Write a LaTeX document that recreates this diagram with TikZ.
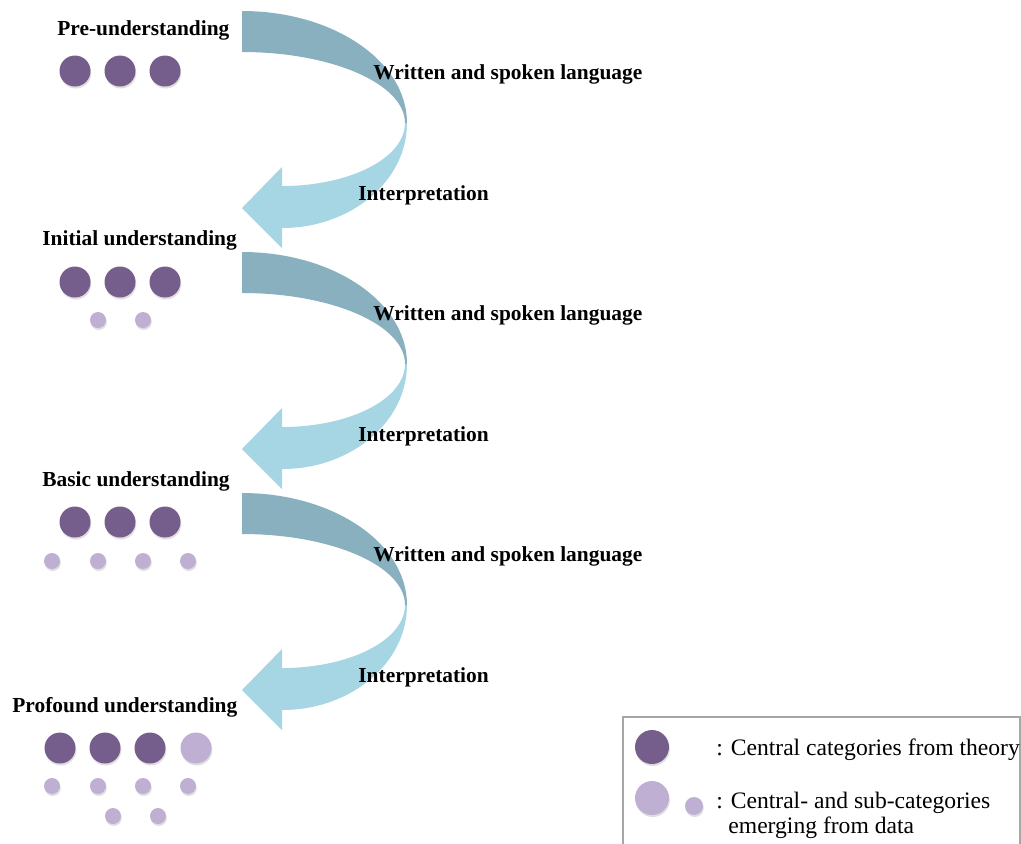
\documentclass[tikz,border=0pt]{standalone}
\usepackage{fontspec}
\setmainfont{Liberation Serif}
\usetikzlibrary{positioning,shadows}

\definecolor{theorydark}{RGB}{117,94,139}
\definecolor{datalight}{RGB}{191,175,210}
\definecolor{loopdark}{RGB}{136,176,190}
\definecolor{looplight}{RGB}{166,213,227}

\begin{document}
\begin{tikzpicture}[
  x=0.5pt,
  y=-0.5pt,
  stagelabel/.style={
    anchor=west,
    inner sep=0pt,
    font=\fontsize{10.7}{12.8}\selectfont\bfseries
  },
  legendtext/.style={
    anchor=west,
    inner sep=0pt,
    font=\fontsize{11.8}{13}\selectfont
  },
  catshadow/.style={
    drop shadow={shadow xshift=0.4pt, shadow yshift=-1pt, opacity=0.25}
  },
  theorycat/.style={
    circle,
    fill=theorydark,
    inner sep=0pt,
    minimum size=15.5pt,
    catshadow
  },
  datacat/.style={
    circle,
    fill=datalight,
    inner sep=0pt,
    minimum size=15.5pt,
    catshadow
  },
  subcat/.style={
    circle,
    fill=datalight,
    inner sep=0pt,
    minimum size=8pt,
    catshadow
  },
  upperband/.style={fill=loopdark},
  lowerband/.style={fill=looplight}
]
\useasboundingbox (0,0) rectangle (1021,843);

% Hermeneutic loops
\foreach \k in {0,1,2} {
  \begin{scope}[shift={(0,241*\k)}]
    \fill[lowerband] (407,123) .. controls (407,181) and (351,228) .. (282,228)
      -- (282,248) -- (242,208) -- (282,167) -- (282,186)
      .. controls (350,186) and (405,158) .. (405,123) -- cycle;
    \fill[upperband] (242,11) .. controls (333,11) and (407,61) .. (407,123)
      -- (405,123) .. controls (405,84) and (332,52) .. (242,52) -- cycle;
  \end{scope}
}

% Loop labels
\node[stagelabel] (lang1) at (373,74) {Written and spoken language};
\node[stagelabel] (interp1) at (358,195) {Interpretation};
\node[stagelabel] (lang2) at (373,315) {Written and spoken language};
\node[stagelabel] (interp2) at (358,436) {Interpretation};
\node[stagelabel] (lang3) at (373,556) {Written and spoken language};
\node[stagelabel] (interp3) at (358,677) {Interpretation};

% Pre-understanding
\node[stagelabel] (pre) at (57,30) {Pre-understanding};
\node[theorycat] (pre1) at (75,71) {};
\node[theorycat] (pre2) at (120,71) {};
\node[theorycat] (pre3) at (165,71) {};

% Initial understanding
\node[stagelabel] (initial) at (42,240) {Initial understanding};
\node[theorycat] (init1) at (75,282) {};
\node[theorycat] (init2) at (120,282) {};
\node[theorycat] (init3) at (165,282) {};
\node[subcat] (inits1) at (98,320) {};
\node[subcat] (inits2) at (143,320) {};

% Basic understanding
\node[stagelabel] (basic) at (42,481) {Basic understanding};
\node[theorycat] (basic1) at (75,522) {};
\node[theorycat] (basic2) at (120,522) {};
\node[theorycat] (basic3) at (165,522) {};
\node[subcat] (basics1) at (52,561) {};
\node[subcat] (basics2) at (98,561) {};
\node[subcat] (basics3) at (143,561) {};
\node[subcat] (basics4) at (188,561) {};

% Profound understanding
\node[stagelabel] (profound) at (12,707) {Profound understanding};
\node[theorycat] (prof1) at (60,748) {};
\node[theorycat] (prof2) at (105,748) {};
\node[theorycat] (prof3) at (150,748) {};
\node[datacat] (prof4) at (196,748) {};
\node[subcat] (profs1) at (52,786) {};
\node[subcat] (profs2) at (98,786) {};
\node[subcat] (profs3) at (143,786) {};
\node[subcat] (profs4) at (188,786) {};
\node[subcat] (profs5) at (113,816) {};
\node[subcat] (profs6) at (158,816) {};

% Legend
\draw[gray!70, line width=0.6pt] (623,850) -- (623,717) -- (1020,717) -- (1020,850);
\node[theorycat, minimum size=17pt] (keytheory) at (652,747) {};
\node[datacat, minimum size=17pt] (keydata) at (652,798) {};
\node[subcat, minimum size=9pt] (keysub) at (694,806) {};
\node[legendtext] (keytheorytext) at (716,750) {: Central categories from theory};
\node[legendtext] (keydatatext) at (716,803) {: Central- and sub-categories};
\node[legendtext] (keydatatext2) at (728,828) {emerging from data};

\end{tikzpicture}
\end{document}
